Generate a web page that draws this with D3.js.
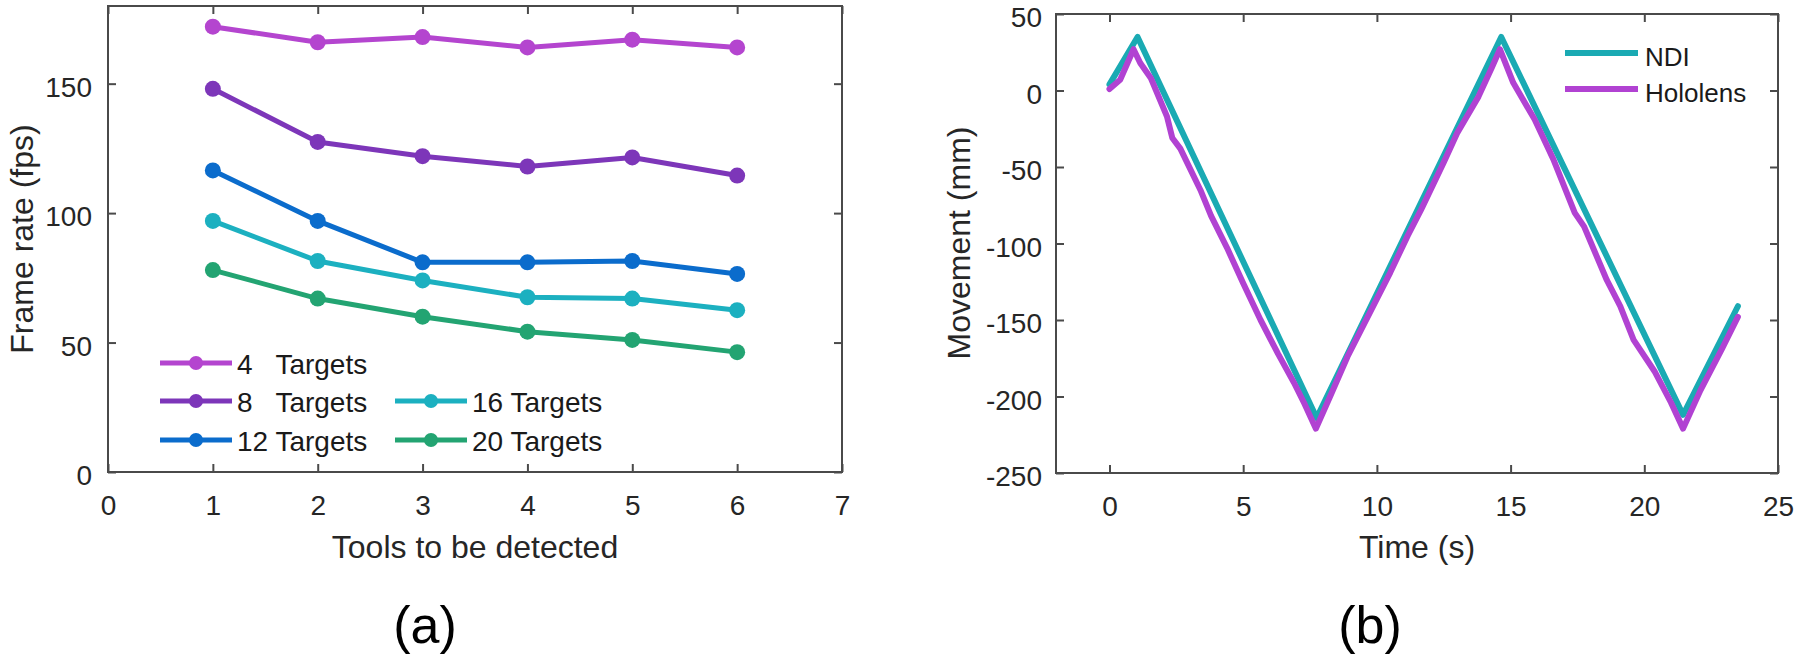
<!DOCTYPE html>
<html>
<head>
<meta charset="utf-8">
<script src="https://cdn.jsdelivr.net/npm/d3@7"></script>
<style>
  body { margin: 0; background: #fff; }
  svg { font-family: "Liberation Sans", Arial, Helvetica, sans-serif; }
  .axis text { fill: #262626; font-size: 28px; }
  .axis line { stroke: #4a4a4a; stroke-width: 2; }
  .axis .domain { display: none; }
  .box { fill: none; stroke: #4a4a4a; stroke-width: 2; }
  .axis-label { fill: #262626; font-size: 32px; text-anchor: middle; }
  .legend text { fill: #1a1a1a; white-space: pre; }
  .panel-tag { font-size: 52px; fill: #000; text-anchor: middle; }
</style>
</head>
<body>
<svg id="fig" width="1800" height="659"></svg>
<script>
// ── Panel (a): frame rate vs. tools ──────────────────────────────────────
const toolCounts   = [1, 2, 3, 4, 5, 6];
const targetLabels = ['4   Targets', '8   Targets', '12 Targets', '16 Targets', '20 Targets'];
const targetColors = ['#b445cf', '#7d36b9', '#0b6ccc', '#1cb0c0', '#23a472'];
const fps4  = [172, 166, 168, 164, 167, 164];
const fps8  = [148, 127.5, 122, 118, 121.5, 114.5];
const fps12 = [116.5, 97, 81, 81, 81.5, 76.5];
const fps16 = [97, 81.5, 74, 67.5, 67, 62.5];
const fps20 = [78, 67, 60, 54.2, 51, 46.3];
const xTicksA = [0, 1, 2, 3, 4, 5, 6, 7];
const yTicksA = [0, 50, 100, 150];

// ── Panel (b): movement over time ────────────────────────────────────────
const seriesNames  = ['NDI', 'Hololens'];
const seriesColors = ['#1aaab3', '#b142d2'];
const ndiTime  = [0, 1.05, 7.75, 14.65, 21.45, 23.5];
const ndiMove  = [4, 35, -214, 35, -212, -141];
const holoTime = [0, 0.4, 0.9, 1.15, 1.55, 2.15, 2.35, 2.65, 3.4, 3.8, 4.4, 5.0, 5.65, 6.3, 6.9, 7.3, 7.72,
                  8.3, 8.9, 9.8, 10.5, 11.15, 11.65, 12.5, 13.0, 13.8, 14.3, 14.6,
                  15.1, 15.9, 16.6, 17.4, 17.75, 18.6, 19.1, 19.6, 20.4, 21.0, 21.45,
                  22.1, 22.9, 23.5];
const holoMove = [1, 7, 27, 18, 8, -17, -31, -38, -65, -82, -103, -126, -150, -172, -191, -205, -221,
                  -198, -174, -143, -119, -95, -78, -47, -28, -4, 15, 27,
                  5, -19, -45, -80, -89, -124, -141, -163, -184, -204, -221,
                  -196, -169, -148];
const xTicksB = [0, 5, 10, 15, 20, 25];
const yTicksB = [-250, -200, -150, -100, -50, 0, 50];

const svg = d3.select('#fig');
const TICK = 8;

// Shared: boxed MATLAB-style axes with inward ticks on all four sides
function drawAxes(x, y, xTicks, yTicks, yPad) {
  const [x0, x1] = x.range();
  const [y0, y1] = y.range();

  svg.append('g')
    .attr('class', 'axis')
    .attr('transform', `translate(0,${y0})`)
    .call(d3.axisBottom(x).tickValues(xTicks).tickSizeInner(-TICK).tickSizeOuter(0).tickPadding(23)
      .tickFormat(d => String(d)));

  svg.append('g')
    .attr('class', 'axis')
    .attr('transform', `translate(0,${y1})`)
    .call(d3.axisTop(x).tickValues(xTicks).tickSizeInner(-TICK).tickSizeOuter(0).tickFormat(() => ''));

  svg.append('g')
    .attr('class', 'axis')
    .attr('transform', `translate(${x0},0)`)
    .call(d3.axisLeft(y).tickValues(yTicks).tickSizeInner(-TICK).tickSizeOuter(0).tickPadding(yPad)
      .tickFormat(d => String(d)))
    .selectAll('text')
    .attr('dy', '0.45em');

  svg.append('g')
    .attr('class', 'axis')
    .attr('transform', `translate(${x1},0)`)
    .call(d3.axisRight(y).tickValues(yTicks).tickSizeInner(-TICK).tickSizeOuter(0).tickFormat(() => ''));

  svg.append('rect')
    .attr('class', 'box')
    .attr('x', x0).attr('y', y1)
    .attr('width', x1 - x0).attr('height', y0 - y1);
}

// ── Panel (a) ────────────────────────────────────────────────────────────
const xa = d3.scaleLinear().domain([0, 7]).range([108, 842]);
const ya = d3.scaleLinear().domain([0, 180]).range([472, 6]);

drawAxes(xa, ya, xTicksA, yTicksA, 16);

const fpsSeries = [fps4, fps8, fps12, fps16, fps20];
const lineA = d3.line()
  .x((d, i) => xa(toolCounts[i]))
  .y(d => ya(d));

fpsSeries.forEach((vals, k) => {
  svg.append('path')
    .datum(vals)
    .attr('fill', 'none')
    .attr('stroke', targetColors[k])
    .attr('stroke-width', 5)
    .attr('stroke-linejoin', 'round')
    .attr('d', lineA);

  svg.selectAll(null)
    .data(vals)
    .enter()
    .append('circle')
    .attr('cx', (d, i) => xa(toolCounts[i]))
    .attr('cy', d => ya(d))
    .attr('r', 8)
    .attr('fill', targetColors[k]);
});

// legend: first three entries in column one, the last two in column two
const legA = svg.append('g').attr('class', 'legend');
const legRows = [363, 401, 440];
const legCols = [160, 395];
targetLabels.forEach((label, i) => {
  const col = i < 3 ? 0 : 1;
  const row = i < 3 ? i : i - 2;
  const lx = legCols[col], ly = legRows[row];
  legA.append('line')
    .attr('x1', lx).attr('x2', lx + 72)
    .attr('y1', ly).attr('y2', ly)
    .attr('stroke', targetColors[i])
    .attr('stroke-width', 5);
  legA.append('circle')
    .attr('cx', lx + 36).attr('cy', ly)
    .attr('r', 7)
    .attr('fill', targetColors[i]);
  legA.append('text')
    .attr('x', lx + 77).attr('y', ly + 11)
    .style('font-size', '28px')
    .text(label);
});

svg.append('text')
  .attr('class', 'axis-label')
  .attr('x', 475).attr('y', 558)
  .text('Tools to be detected');

svg.append('text')
  .attr('class', 'axis-label')
  .attr('transform', 'translate(33,239) rotate(-90)')
  .text('Frame rate (fps)');

svg.append('text')
  .attr('class', 'panel-tag')
  .attr('x', 425).attr('y', 643)
  .text('(a)');

// ── Panel (b) ────────────────────────────────────────────────────────────
const xb = d3.scaleLinear().domain([-2, 25]).range([1056, 1778]);
const yb = d3.scaleLinear().domain([-250, 50]).range([473, 14]);

drawAxes(xb, yb, xTicksB, yTicksB, 14);

const movement = [
  { time: ndiTime,  move: ndiMove },
  { time: holoTime, move: holoMove }
];

movement.forEach((s, k) => {
  const lineB = d3.line()
    .x((d, i) => xb(s.time[i]))
    .y(d => yb(d));
  svg.append('path')
    .datum(s.move)
    .attr('fill', 'none')
    .attr('stroke', seriesColors[k])
    .attr('stroke-width', 6)
    .attr('stroke-linejoin', 'round')
    .attr('stroke-linecap', 'round')
    .attr('d', lineB);
});

const legB = svg.append('g').attr('class', 'legend');
seriesNames.forEach((name, i) => {
  const ly = 53 + i * 36;
  legB.append('line')
    .attr('x1', 1565).attr('x2', 1638)
    .attr('y1', ly).attr('y2', ly)
    .attr('stroke', seriesColors[i])
    .attr('stroke-width', 6);
  legB.append('text')
    .attr('x', 1645).attr('y', ly + 13)
    .style('font-size', '26px')
    .text(name);
});

svg.append('text')
  .attr('class', 'axis-label')
  .attr('x', 1417).attr('y', 558)
  .text('Time (s)');

svg.append('text')
  .attr('class', 'axis-label')
  .attr('transform', 'translate(970,243) rotate(-90)')
  .text('Movement (mm)');

svg.append('text')
  .attr('class', 'panel-tag')
  .attr('x', 1370).attr('y', 643)
  .text('(b)');
</script>
</body>
</html>
